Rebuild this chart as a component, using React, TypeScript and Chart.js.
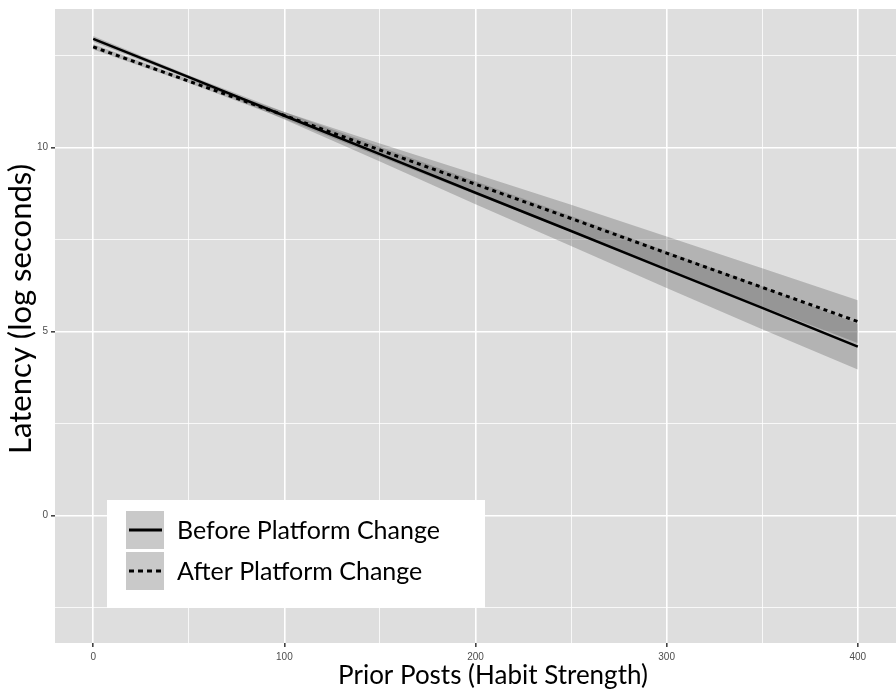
import React, { useEffect, useRef } from 'react';
import { Chart, registerables } from 'chart.js';

Chart.register(...registerables);

// ---- data ----
const POSTS = [0, 50, 100, 150, 200, 250, 300, 350, 400];
const BEFORE_FIT = [12.95, 11.91, 10.86, 9.82, 8.77, 7.73, 6.68, 5.64, 4.59];
const BEFORE_UPPER = [13.03, 11.96, 10.96, 10.02, 9.08, 8.14, 7.18, 6.22, 5.21];
const BEFORE_LOWER = [12.87, 11.86, 10.76, 9.62, 8.46, 7.32, 6.18, 5.06, 3.97];
const AFTER_FIT = [12.73, 11.8, 10.87, 9.93, 9.0, 8.07, 7.13, 6.2, 5.27];
const AFTER_UPPER = [12.8, 11.85, 10.96, 10.11, 9.28, 8.44, 7.58, 6.72, 5.85];
const AFTER_LOWER = [12.66, 11.75, 10.78, 9.75, 8.72, 7.7, 6.68, 5.68, 4.69];

const SERIES_LABELS = ['Before Platform Change', 'After Platform Change'];
const X_TITLE = 'Prior Posts (Habit Strength)';
const Y_TITLE = 'Latency (log seconds)';

const X_MIN = -20;
const X_MAX = 420;
const Y_MIN = -3.46;
const Y_MAX = 13.76;
const X_STEP = 50;
const X_MAJOR = 100;
const Y_STEP = 2.5;
const Y_MAJOR = 5;

// ---- styles ----
const PANEL_BG = '#dedede';
const RIBBON = 'rgba(90,90,90,0.33)';
const FONT = 'Lato, "Open Sans", "Noto Sans", sans-serif';

const pts = (ys: number[]) => POSTS.map((x, i) => ({ x, y: ys[i] }));

function fitSize(ctx: CanvasRenderingContext2D, text: string, target: number) {
  ctx.font = `100px ${FONT}`;
  const w = ctx.measureText(text).width;
  return (100 * target) / w;
}

const panelPlugin = {
  id: 'panelBg',
  beforeDraw(chart: any) {
    const { ctx, chartArea: a } = chart;
    ctx.save();
    ctx.fillStyle = PANEL_BG;
    ctx.fillRect(a.left, a.top, a.right - a.left, a.bottom - a.top);
    ctx.restore();
  },
};

const overlayPlugin = {
  id: 'overlay',
  afterDraw(chart: any) {
    const ctx: CanvasRenderingContext2D = chart.ctx;
    ctx.save();
    // legend box
    const bx = 107, by = 500, bw = 378, bh = 108;
    ctx.fillStyle = '#ffffff';
    ctx.fillRect(bx, by, bw, bh);
    const keyX = 126, keyW = 38, keyH = 38;
    const rows = [511, 552];
    const legSize = fitSize(ctx, SERIES_LABELS[0], 263);
    rows.forEach((ry, i) => {
      ctx.fillStyle = '#ffffff';
      ctx.fillRect(keyX, ry, keyW, keyH);
      ctx.fillStyle = RIBBON;
      ctx.fillRect(keyX, ry, keyW, keyH);
      ctx.strokeStyle = '#000';
      ctx.lineWidth = 3;
      ctx.setLineDash(i === 0 ? [] : [5, 4]);
      ctx.beginPath();
      ctx.moveTo(keyX + 3, ry + keyH / 2);
      ctx.lineTo(keyX + keyW - 2, ry + keyH / 2);
      ctx.stroke();
      ctx.setLineDash([]);
      ctx.fillStyle = '#000';
      ctx.font = `${legSize}px ${FONT}`;
      ctx.textAlign = 'left';
      ctx.textBaseline = 'middle';
      ctx.fillText(SERIES_LABELS[i], 177, ry + keyH / 2 + 1);
    });
    // axis titles
    const xs = fitSize(ctx, X_TITLE, 310);
    ctx.font = `${xs}px ${FONT}`;
    ctx.fillStyle = '#000';
    ctx.textAlign = 'center';
    ctx.textBaseline = 'middle';
    ctx.fillText(X_TITLE, 493, 676);
    const ys = fitSize(ctx, Y_TITLE, 290);
    ctx.font = `${ys}px ${FONT}`;
    ctx.save();
    ctx.translate(21, 309);
    ctx.rotate(-Math.PI / 2);
    ctx.fillText(Y_TITLE, 0, 0);
    ctx.restore();
    ctx.restore();
  },
};

export default function App() {
  const ref = useRef<HTMLCanvasElement | null>(null);
  useEffect(() => {
    document.body.style.margin = '0';
    const canvas = ref.current!;
    const isMajor = (v: number, step: number) => Math.abs(v / step - Math.round(v / step)) < 1e-6;
    const chart = new Chart(canvas, {
      type: 'line',
      data: {
        datasets: [
          { label: 'bu', data: pts(BEFORE_UPPER), borderWidth: 0, pointRadius: 0, fill: false, order: 2 },
          { label: 'bl', data: pts(BEFORE_LOWER), borderWidth: 0, pointRadius: 0, fill: '-1', backgroundColor: RIBBON, order: 2 },
          { label: 'au', data: pts(AFTER_UPPER), borderWidth: 0, pointRadius: 0, fill: false, order: 2 },
          { label: 'al', data: pts(AFTER_LOWER), borderWidth: 0, pointRadius: 0, fill: '-1', backgroundColor: RIBBON, order: 2 },
          { label: SERIES_LABELS[0], data: pts(BEFORE_FIT), borderColor: '#000', borderWidth: 2.5, pointRadius: 0, fill: false, order: 0 },
          { label: SERIES_LABELS[1], data: pts(AFTER_FIT), borderColor: '#000', borderWidth: 3, borderDash: [4, 4], borderCapStyle: 'butt', pointRadius: 0, fill: false, order: 1 },
        ] as any,
      },
      options: {
        animation: false,
        responsive: false,
        devicePixelRatio: 1,
        layout: { padding: { top: 6, left: 0, right: 0, bottom: 0 } },
        plugins: { legend: { display: false }, tooltip: { enabled: false } },
        elements: { line: { tension: 0 } },
        scales: {
          x: {
            type: 'linear',
            min: X_MIN,
            max: X_MAX,
            afterFit: (s: any) => { s.height = 50; },
            border: { display: false },
            grid: {
              color: '#ffffff',
              lineWidth: (c: any) => (c.tick && isMajor(c.tick.value, X_MAJOR) ? 1.6 : 0.8),
              tickColor: (c: any) => (c.tick && isMajor(c.tick.value, X_MAJOR) ? '#444' : 'rgba(0,0,0,0)'),
              tickLength: 4,
              drawTicks: true,
            },
            ticks: {
              stepSize: X_STEP,
              includeBounds: false,
              autoSkip: false,
              maxRotation: 0,
              padding: 4,
              color: '#4d4d4d',
              font: { family: 'Liberation Sans, Arial, sans-serif', size: 10 },
              callback: (v: any) => (isMajor(Number(v), X_MAJOR) ? String(v) : ''),
            },
          },
          y: {
            type: 'linear',
            min: Y_MIN,
            max: Y_MAX,
            afterFit: (s: any) => { s.width = 55; },
            border: { display: false },
            grid: {
              color: '#ffffff',
              lineWidth: (c: any) => (c.tick && isMajor(c.tick.value, Y_MAJOR) ? 1.6 : 0.8),
              tickColor: (c: any) => (c.tick && isMajor(c.tick.value, Y_MAJOR) ? '#444' : 'rgba(0,0,0,0)'),
              tickLength: 4,
              drawTicks: true,
            },
            ticks: {
              stepSize: Y_STEP,
              includeBounds: false,
              autoSkip: false,
              padding: 3,
              color: '#4d4d4d',
              font: { family: 'Liberation Sans, Arial, sans-serif', size: 10 },
              callback: (v: any) => (isMajor(Number(v), Y_MAJOR) ? String(v) : ''),
            },
          },
        },
      } as any,
      plugins: [panelPlugin, overlayPlugin],
    });
    return () => chart.destroy();
  }, []);
  return (
    <div style={{ width: 896, height: 693, background: '#fff' }}>
      <canvas ref={ref} width={896} height={693} style={{ display: 'block' }} />
    </div>
  );
}
